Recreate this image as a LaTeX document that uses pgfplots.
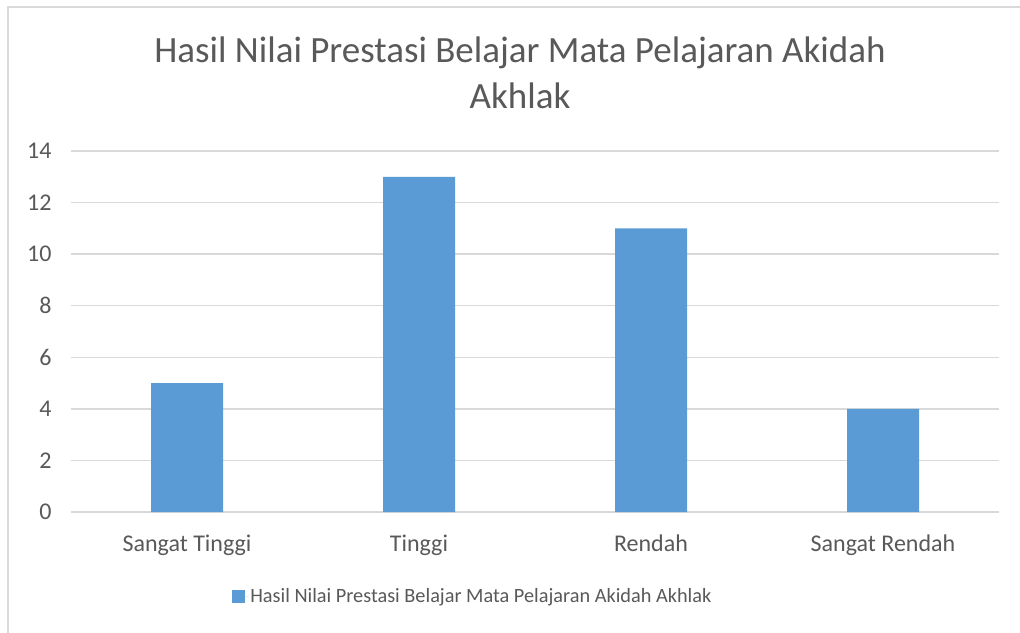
\documentclass[border=0pt]{standalone}
\usepackage{pgfplots}
\pgfplotsset{compat=1.18}
\usepackage{fontspec}
\setmainfont{Carlito}
\definecolor{barblue}{HTML}{5B9BD5}
\definecolor{gridgray}{HTML}{D9D9D9}
\definecolor{txt}{HTML}{595959}
\begin{document}
\begin{tikzpicture}
\useasboundingbox (0pt,0pt) rectangle (1020pt,632pt);
\fill[white] (0pt,0pt) rectangle (1020pt,632pt);
\draw[gridgray, line width=2pt] (8pt,-5pt) -- (8pt,625pt) -- (1030pt,625pt);
\node[anchor=base, text=txt, font=\fontsize{37}{44}\selectfont] at (520pt,569pt) {Hasil Nilai Prestasi Belajar Mata Pelajaran Akidah};
\node[anchor=base, text=txt, font=\fontsize{37}{44}\selectfont] at (520pt,523pt) {Akhlak};
\begin{axis}[
  at={(71pt,120pt)}, anchor=south west,
  scale only axis, width=928pt, height=361pt,
  xmin=-0.5, xmax=3.5, ymin=0, ymax=14,
  xtick={0,1,2,3},
  xticklabels={Sangat Tinggi,Tinggi,Rendah,Sangat Rendah},
  ytick={0,2,...,14},
  axis line style={draw=none},
  tick style={draw=none},
  ymajorgrids, grid style={gridgray, line width=1.5pt},
  /pgf/number format/assume math mode=true,
  yticklabel style={font=\fontsize{24}{28}\selectfont, text=txt, xshift=-16pt},
  xticklabel style={font=\fontsize{24}{28}\selectfont, text=txt, yshift=-19pt},
  legend style={at={(0.433,-0.233)}, anchor=center, draw=none, fill=none,
    font=\fontsize{20.3}{24}\selectfont, text=txt},
  legend image code/.code={\fill[barblue] (0pt,-6.5pt) rectangle (13pt,6.5pt); \path (0pt,0pt) -- (16pt,0pt);},
  legend cell align=left,
]
\addplot[ybar, bar width=72pt, fill=barblue, draw=none] coordinates {(0,5) (1,13) (2,11) (3,4)};
\addlegendentry{Hasil Nilai Prestasi Belajar Mata Pelajaran Akidah Akhlak}
\end{axis}
\end{tikzpicture}
\end{document}
